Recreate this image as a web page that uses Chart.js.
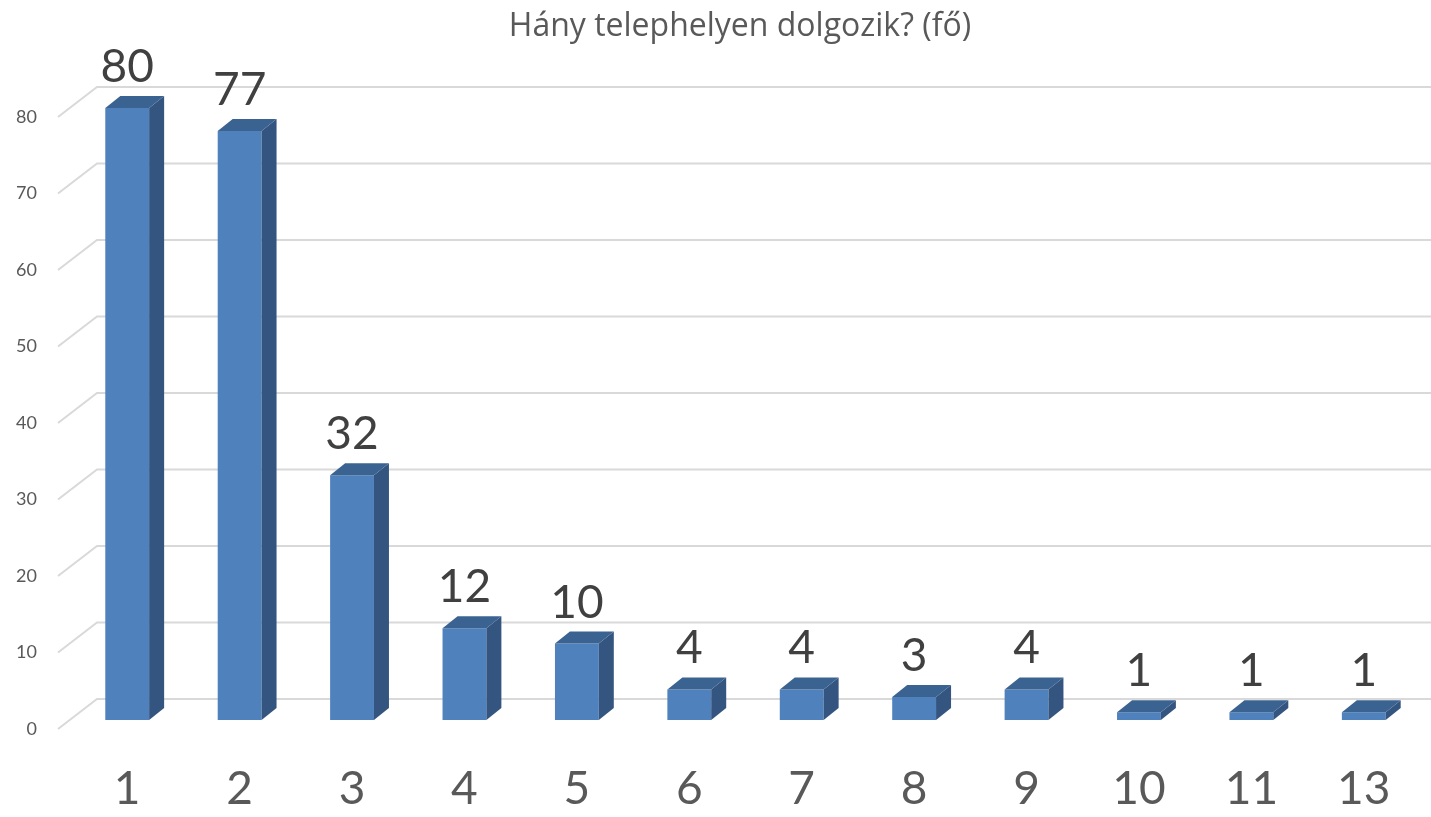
<!DOCTYPE html>
<html>
<head>
<meta charset="utf-8">
<script src="https://cdn.jsdelivr.net/npm/chart.js@4/dist/chart.umd.min.js"></script>
<style>
    html, body { margin: 0; padding: 0; background: #fff; }
    #wrap { width: 1431px; height: 817px; }
</style>
</head>
<body>
<div id="wrap"><canvas id="chart"></canvas></div>
<script>
        // Data
        const categories = ['1', '2', '3', '4', '5', '6', '7', '8', '9', '10', '11', '13'];
        const counts = [80, 77, 32, 12, 10, 4, 4, 3, 4, 1, 1, 1];
        const yTicks = [0, 10, 20, 30, 40, 50, 60, 70, 80];
        const chartTitle = 'Hány telephelyen dolgozik? (fő)';

        const FONT = 'Lato, "Open Sans", sans-serif';
        const depthX = 15, depthY = -12;

        // fake 3d: back-wall grid, side/top faces, value labels, title
        const fake3d = {
            id: 'fake3d',
            beforeDatasetsDraw(chart) {
                const ctx = chart.ctx;
                const y = chart.scales.y;
                ctx.save();
                ctx.strokeStyle = '#d9d9d9';
                ctx.lineWidth = 2;
                yTicks.forEach(v => {
                    const yf = y.getPixelForValue(v);
                    ctx.beginPath();
                    ctx.moveTo(58, yf + 9);
                    ctx.lineTo(97, yf - 21);
                    ctx.lineTo(chart.width, yf - 21);
                    ctx.stroke();
                });
                ctx.restore();
            },
            afterDatasetsDraw(chart) {
                const ctx = chart.ctx;
                const meta = chart.getDatasetMeta(0);
                ctx.save();
                meta.data.forEach((bar, i) => {
                    const l = bar.x - bar.width / 2;
                    const r = bar.x + bar.width / 2;
                    const top = bar.y;
                    const base = bar.base;
                    // side
                    ctx.fillStyle = '#34557f';
                    ctx.beginPath();
                    ctx.moveTo(r, top);
                    ctx.lineTo(r + depthX, top + depthY);
                    ctx.lineTo(r + depthX, base + depthY);
                    ctx.lineTo(r, base);
                    ctx.closePath();
                    ctx.fill();
                    // top
                    ctx.fillStyle = '#3b6391';
                    ctx.beginPath();
                    ctx.moveTo(l, top);
                    ctx.lineTo(l + depthX, top + depthY);
                    ctx.lineTo(r + depthX, top + depthY);
                    ctx.lineTo(r, top);
                    ctx.closePath();
                    ctx.fill();
                    // value label
                    ctx.fillStyle = '#404040';
                    ctx.font = '46px ' + FONT;
                    ctx.textAlign = 'center';
                    ctx.textBaseline = 'alphabetic';
                    ctx.fillText(String(counts[i]), bar.x, top + depthY - 14);
                });
                // title
                ctx.fillStyle = '#595959';
                ctx.font = '32px "Open Sans", sans-serif';
                ctx.textAlign = 'center';
                ctx.textBaseline = 'middle';
                ctx.fillText(chartTitle, 740, 27);
                ctx.restore();
            }
        };

        const ctx = document.getElementById('chart').getContext('2d');
        const chart = new Chart(ctx, {
            type: 'bar',
            data: {
                labels: categories,
                datasets: [{
                    data: counts,
                    backgroundColor: '#4f81bd',
                    borderWidth: 0,
                    barPercentage: 0.39,
                    categoryPercentage: 1.0
                }]
            },
            options: {
                responsive: true,
                maintainAspectRatio: false,
                animation: false,
                layout: {
                    padding: { top: 108, right: 11, left: 0, bottom: 0 }
                },
                plugins: {
                    legend: { display: false },
                    title: { display: false },
                    tooltip: { enabled: false }
                },
                scales: {
                    x: {
                        grid: { display: false, drawTicks: false },
                        border: { display: false },
                        ticks: {
                            color: '#595959',
                            font: { family: FONT, size: 46 },
                            padding: 42,
                            maxRotation: 0
                        },
                        afterFit(scale) {
                            scale.height = 97;
                            scale.paddingLeft = 0;
                            scale.paddingRight = 0;
                        }
                    },
                    y: {
                        min: 0,
                        max: 80,
                        grid: { display: false, drawTicks: false },
                        border: { display: false },
                        afterBuildTicks(scale) {
                            scale.ticks = yTicks.map(v => ({ value: v }));
                        },
                        ticks: {
                            color: '#595959',
                            font: { family: FONT, size: 18 },
                            padding: 34,
                            labelOffset: 9
                        },
                        afterFit(scale) {
                            scale.width = 71;
                            scale.paddingTop = 0;
                            scale.paddingBottom = 0;
                        }
                    }
                }
            },
            plugins: [fake3d]
        });
</script>
</body>
</html>
